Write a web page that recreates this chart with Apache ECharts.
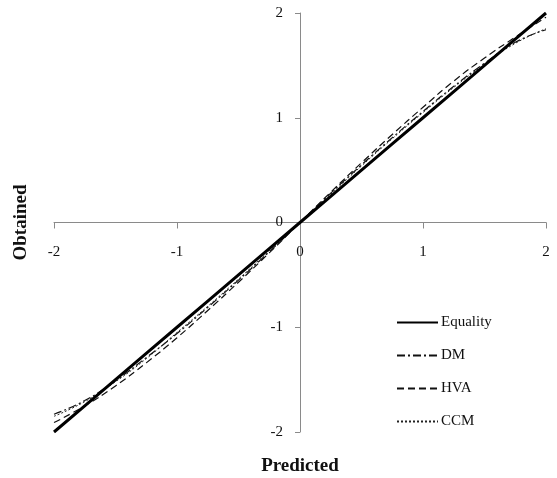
<!DOCTYPE html>
<html>
<head>
<meta charset="utf-8">
<script src="https://cdn.jsdelivr.net/npm/echarts@6/dist/echarts.min.js"></script>
<style>html,body{margin:0;padding:0;background:#fff;}#c{width:557px;height:478px;}</style>
</head>
<body>
<div id="c"></div>
<script>
const predicted = [-2, -1.75, -1.5, -1.25, -1, -0.75, -0.5, -0.25, 0, 0.25, 0.5, 0.75, 1, 1.25, 1.5, 1.75, 2];
const equality  = [-2, -1.75, -1.5, -1.25, -1, -0.75, -0.5, -0.25, 0, 0.25, 0.5, 0.75, 1, 1.25, 1.5, 1.75, 2];
const dm        = [-1.83, -1.70, -1.51, -1.29, -1.06, -0.81, -0.55, -0.28, 0, 0.28, 0.55, 0.81, 1.06, 1.30, 1.52, 1.72, 1.84];
const hva       = [-1.91, -1.75, -1.56, -1.34, -1.10, -0.84, -0.57, -0.29, 0, 0.29, 0.57, 0.84, 1.10, 1.35, 1.57, 1.77, 1.96];
const ccm       = [-1.85, -1.71, -1.52, -1.30, -1.05, -0.80, -0.54, -0.27, 0, 0.27, 0.54, 0.80, 1.05, 1.29, 1.51, 1.71, 1.85];
const xTicks = [-2, -1, 0, 1, 2];
const yTicks = [-2, -1, 0, 1, 2];

const pairs = arr => predicted.map((x, i) => [x, arr[i]]);
const font = 'Liberation Serif';
const W = 557, H = 478;
const grid = { left: 54, right: 11, top: 13, bottom: 46 };
const plotW = W - grid.left - grid.right;
const plotH = H - grid.top - grid.bottom;
const chart = echarts.init(document.getElementById('c'));
chart.setOption({
  animation: false,
  backgroundColor: '#fff',
  grid: Object.assign({ containLabel: false, outerBoundsMode: 'none' }, grid),
  legend: {
    orient: 'vertical', left: 391, top: 310, itemWidth: 41, itemHeight: 14, itemGap: 18,
    itemStyle: { opacity: 0 },
    textStyle: { fontFamily: font, fontSize: 15, color: '#111', padding: [0, 0, 0, -2] },
    data: ['Equality', 'DM', 'HVA', 'CCM']
  },
  xAxis: {
    type: 'value', min: -2, max: 2, interval: 1,
    offset: -plotH / 2,
    axisLine: { onZero: false, lineStyle: { color: '#8a8a8a', width: 1 } },
    axisTick: { show: true, length: 6, lineStyle: { color: '#8a8a8a' } },
    axisLabel: { margin: 22, fontFamily: font, fontSize: 15, color: '#111',
      formatter: v => xTicks.includes(v) ? String(v) : '' },
    splitLine: { show: false },
    name: 'Predicted', nameLocation: 'middle', nameGap: 234,
    nameTextStyle: { fontFamily: font, fontSize: 19, fontWeight: 'bold', color: '#111' }
  },
  yAxis: {
    type: 'value', min: -2, max: 2, interval: 1,
    offset: -plotW / 2,
    axisLine: { onZero: false, lineStyle: { color: '#8a8a8a', width: 1 } },
    axisTick: { show: true, length: 5, lineStyle: { color: '#8a8a8a' } },
    axisLabel: { margin: 17, fontFamily: font, fontSize: 15, color: '#111',
      formatter: v => yTicks.includes(v) ? String(v) : '' },
    splitLine: { show: false },
    name: 'Obtained', nameLocation: 'middle', nameGap: 269,
    nameTextStyle: { fontFamily: font, fontSize: 19, fontWeight: 'bold', color: '#111' }
  },
  series: [
    { name: 'Equality', type: 'line', symbol: 'none', smooth: false, data: pairs(equality),
      lineStyle: { color: '#000', width: 3 }, itemStyle: { color: '#000' }, z: 5 },
    { name: 'DM', type: 'line', symbol: 'none', smooth: true, data: pairs(dm),
      lineStyle: { color: '#111', width: 1.2, type: [8, 3, 2, 3] }, itemStyle: { color: '#111' } },
    { name: 'HVA', type: 'line', symbol: 'none', smooth: true, data: pairs(hva),
      lineStyle: { color: '#111', width: 1.2, type: [7, 4] }, itemStyle: { color: '#111' } },
    { name: 'CCM', type: 'line', symbol: 'none', smooth: true, data: pairs(ccm),
      lineStyle: { color: '#222', width: 1, type: [2, 2] }, itemStyle: { color: '#222' } }
  ]
});
</script>
</body>
</html>
